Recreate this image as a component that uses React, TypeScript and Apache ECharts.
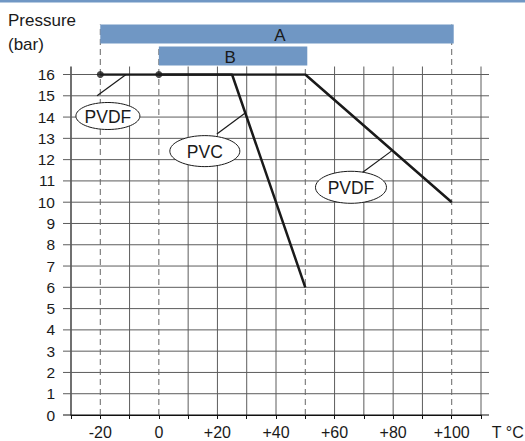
import React, { useEffect, useRef } from 'react';
import * as echarts from 'echarts';

// ---- data ----
const xGridValues = [-30, -20, -10, 0, 10, 20, 30, 40, 50, 60, 70, 80, 90, 100, 110];
const xLabelValues = [-20, 0, 20, 40, 60, 80, 100];
const xTickLabels = ['-20', '0', '+20', '+40', '+60', '+80', '+100'];
const yGridValues = [0, 1, 2, 3, 4, 5, 6, 7, 8, 9, 10, 11, 12, 13, 14, 15, 16];

const pvdfTemps = [-20, 50, 100];
const pvdfPressure = [16, 16, 10];
const pvcTemps = [0, 25, 50];
const pvcPressure = [16, 16, 6];
const startTemps = [-20, 0];
const startPressure = [16, 16];

const rangeNames = ['A', 'B'];
const rangeFrom = [-20, 0];
const rangeTo = [100, 50];

const calloutNames = ['PVDF', 'PVC', 'PVDF'];
const calloutAnchorT = [-11.2, 29.6, 79.4];
const calloutAnchorP = [16, 14.2, 12.4];
const calloutLeadT = [-21.1, 19.8, 69.5];
const calloutLeadP = [15.0, 13.2, 11.4];
const calloutCenterT = [-17.4, 15.7, 65.6];
const calloutCenterP = [14.05, 12.4, 10.7];

// ---- layout / style ----
const X_MIN = -30;
const X_MAX = 110;
const Y_MIN = 0;
const Y_MAX = 16;
const FONT = '"Liberation Sans", Arial, Helvetica, sans-serif';
const GRID_COLOR = '#5c5c5c';
const BLUE = '#7097c4';
const rangeBarTop = [-50, -28];
const rangeBarHeight = [19, 19];
const calloutRx = [32, 35, 35.5];
const calloutRy = [13.5, 15.5, 16];

const dashedValues = [...rangeFrom, ...rangeTo];

export default function App() {
  const ref = useRef<HTMLDivElement>(null);
  useEffect(() => {
    document.body.style.margin = '0';
    const chart = echarts.init(ref.current as HTMLDivElement, null, { renderer: 'svg' });

    const option: any = {
      animation: false,
      backgroundColor: '#ffffff',
      textStyle: { fontFamily: FONT },
      grid: { left: 71, right: 44, top: 74.5, bottom: 26, containLabel: false },
      xAxis: {
        type: 'value',
        min: X_MIN,
        max: X_MAX,
        interval: 10,
        axisLine: { show: true, lineStyle: { color: '#111', width: 1 } },
        axisTick: { show: true, length: 4, lineStyle: { color: '#111', width: 1 } },
        splitLine: { show: false },
        axisLabel: {
          margin: 9,
          fontSize: 16,
          color: '#1a1a1a',
          fontFamily: FONT,
          formatter: (v: number) => {
            const i = xLabelValues.indexOf(v);
            return i >= 0 ? xTickLabels[i] : '';
          },
        },
      },
      yAxis: {
        type: 'value',
        min: Y_MIN,
        max: Y_MAX,
        interval: 1,
        axisLine: { show: false },
        axisTick: { show: false },
        splitLine: { show: false },
        axisLabel: { margin: 16, fontSize: 15.5, color: '#1a1a1a', fontFamily: FONT },
      },
      graphic: [
        { type: 'rect', left: 0, top: 0, shape: { width: 525, height: 2.5 }, style: { fill: BLUE } },
        {
          type: 'text',
          left: 8,
          top: 8,
          style: { text: 'Pressure\n(bar)', fontSize: 17, lineHeight: 24, fill: '#1a1a1a', fontFamily: FONT },
        },
        {
          type: 'text',
          right: 1,
          top: 424,
          style: { text: 'T °C', fontSize: 16, fill: '#1a1a1a', fontFamily: FONT },
        },
      ],
      series: [
        {
          type: 'custom',
          name: 'vgrid',
          z: 1,
          silent: true,
          encode: { x: 0, y: 1 },
          data: xGridValues.map((v) => [v, Y_MIN]),
          renderItem: (params: any, api: any) => {
            const x = api.value(0);
            if (dashedValues.indexOf(x) >= 0) return null;
            const p0 = api.coord([x, Y_MIN]);
            const p1 = api.coord([x, Y_MAX]);
            return {
              type: 'line',
              shape: { x1: p0[0], y1: p0[1], x2: p1[0], y2: p1[1] - 8 },
              style: { stroke: x === X_MIN ? '#111' : GRID_COLOR, lineWidth: x === X_MIN ? 1.2 : 1 },
            };
          },
        },
        {
          type: 'custom',
          name: 'hgrid',
          z: 1,
          silent: true,
          encode: { x: 0, y: 1 },
          data: yGridValues.map((v) => [X_MIN, v]),
          renderItem: (params: any, api: any) => {
            const y = api.value(1);
            const p0 = api.coord([X_MIN, y]);
            const p1 = api.coord([X_MAX, y]);
            return {
              type: 'line',
              shape: { x1: p0[0] - 8, y1: p0[1], x2: p1[0] + 8, y2: p1[1] },
              style: { stroke: y === Y_MIN ? '#111' : GRID_COLOR, lineWidth: y === Y_MIN ? 1.2 : 1 },
            };
          },
        },
        {
          type: 'custom',
          name: 'ranges',
          z: 2,
          silent: true,
          encode: { x: [0, 2], y: 1 },
          data: rangeNames.map((n, i) => [rangeFrom[i], Y_MAX, rangeTo[i]]),
          renderItem: (params: any, api: any) => {
            const i = params.dataIndex;
            const a0 = api.coord([api.value(0), Y_MIN]);
            const a1 = api.coord([api.value(2), Y_MIN]);
            const top16 = api.coord([api.value(0), Y_MAX])[1];
            const barTop = top16 + rangeBarTop[i];
            const dash = (x: number) => ({
              type: 'line',
              shape: { x1: x, y1: a0[1], x2: x, y2: barTop },
              style: { stroke: '#666', lineWidth: 1, lineDash: [6, 4] },
            });
            return {
              type: 'group',
              children: [
                dash(a0[0]),
                dash(a1[0]),
                {
                  type: 'rect',
                  shape: { x: a0[0], y: barTop, width: a1[0] - a0[0] + 2, height: rangeBarHeight[i] },
                  style: { fill: BLUE },
                },
                {
                  type: 'text',
                  style: {
                    text: rangeNames[i],
                    x: (a0[0] + a1[0]) / 2 + (i === 0 ? 4 : -2),
                    y: barTop + rangeBarHeight[i] / 2 + 1,
                    align: 'center',
                    verticalAlign: 'middle',
                    fontSize: 17,
                    fontFamily: FONT,
                    fill: '#1a1a1a',
                  },
                },
              ],
            };
          },
        },
        {
          type: 'line',
          name: 'PVDF',
          z: 3,
          symbol: 'none',
          lineStyle: { color: '#1a1a1a', width: 2.5 },
          data: pvdfTemps.map((t, i) => [t, pvdfPressure[i]]),
        },
        {
          type: 'line',
          name: 'PVC',
          z: 3,
          symbol: 'none',
          lineStyle: { color: '#1a1a1a', width: 2.5 },
          data: pvcTemps.map((t, i) => [t, pvcPressure[i]]),
        },
        {
          type: 'scatter',
          name: 'start',
          z: 4,
          symbol: 'circle',
          symbolSize: 7,
          itemStyle: { color: '#1a1a1a' },
          data: startTemps.map((t, i) => [t, startPressure[i]]),
        },
        {
          type: 'custom',
          name: 'callouts',
          z: 5,
          silent: true,
          encode: { x: 0, y: 1 },
          data: calloutNames.map((n, i) => [calloutCenterT[i], calloutCenterP[i]]),
          renderItem: (params: any, api: any) => {
            const i = params.dataIndex;
            const c = api.coord([calloutCenterT[i], calloutCenterP[i]]);
            const a = api.coord([calloutAnchorT[i], calloutAnchorP[i]]);
            const l = api.coord([calloutLeadT[i], calloutLeadP[i]]);
            return {
              type: 'group',
              children: [
                {
                  type: 'line',
                  shape: { x1: l[0], y1: l[1], x2: a[0], y2: a[1] },
                  style: { stroke: '#1a1a1a', lineWidth: 1.2 },
                },
                {
                  type: 'ellipse',
                  shape: { cx: c[0], cy: c[1], rx: calloutRx[i], ry: calloutRy[i] },
                  style: { fill: '#ffffff', stroke: '#1a1a1a', lineWidth: 1 },
                },
                {
                  type: 'text',
                  style: {
                    text: calloutNames[i],
                    x: c[0],
                    y: c[1] + 1,
                    align: 'center',
                    verticalAlign: 'middle',
                    fontSize: 17.5,
                    fontFamily: FONT,
                    fill: '#1a1a1a',
                  },
                },
              ],
            };
          },
        },
      ],
    };

    chart.setOption(option);
    return () => chart.dispose();
  }, []);
  return <div ref={ref} style={{ width: 525, height: 441 }} />;
}
